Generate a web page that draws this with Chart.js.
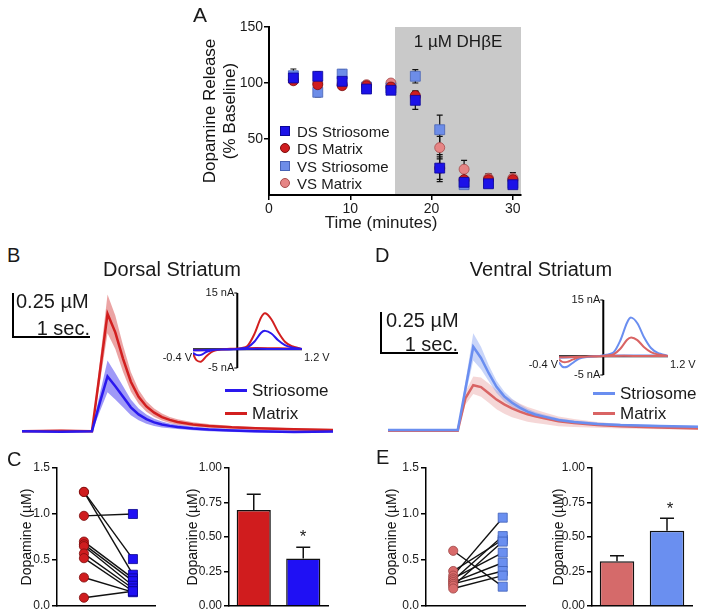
<!DOCTYPE html>
<html>
<head>
<meta charset="utf-8">
<script src="https://cdn.jsdelivr.net/npm/chart.js@4.4.1/dist/chart.umd.min.js"></script>
<style>
  body { margin: 0; background: #fff; font-family: "Liberation Sans", Arial, sans-serif; color: #1a1a1a; }
  #fig { position: relative; width: 707px; height: 616px; overflow: hidden; }
  canvas { position: absolute; }
  .t { position: absolute; line-height: 1; white-space: nowrap; }
  .rot { position: absolute; transform: rotate(-90deg); text-align: center; white-space: nowrap; line-height: 20px; color: #111; }
  .bar { position: absolute; background: #000; }
  .mk { position: absolute; box-sizing: border-box; }
</style>
</head>
<body>
<div id="fig">
  <canvas id="cA" width="340" height="205" style="left:200px;top:15px"></canvas>
  <canvas id="cB" width="311" height="150" style="left:22px;top:290px"></canvas>
  <canvas id="cBcv" width="190" height="100" style="left:150px;top:280px"></canvas>
  <canvas id="cD" width="310" height="136" style="left:388px;top:302px"></canvas>
  <canvas id="cDcv" width="190" height="100" style="left:516px;top:287px"></canvas>
  <canvas id="cC1" width="165" height="161" style="left:0px;top:455px"></canvas>
  <canvas id="cC2" width="170" height="161" style="left:170px;top:455px"></canvas>
  <canvas id="cE1" width="175" height="161" style="left:360px;top:455px"></canvas>
  <canvas id="cE2" width="170" height="161" style="left:535px;top:455px"></canvas>
</div>
<script>
// Panel A - release over time (% baseline)
const timeA = [3, 6, 9, 12, 15, 18, 21, 24, 27, 30];
const dsStrioA = [104.5, 106, 101.5, 94.6, 93.5, 84.5, 24, 11.3, 10, 9.2];
const dsMatrixA = [102, 98.5, 97.6, 97.6, 96.4, 88.7, 24, 13.7, 13.7, 13.7];
const vsStrioA = [106.5, 91.7, 108, 96.4, 95.5, 106, 58.3, 9.2, 10.7, 10.7];
const vsMatrixA = [103, 100, 99, 98.5, 100, 87.5, 42.3, 23, 15, 15];
const dsStrioErr = [4, 4, 4, 3, 3, 8, 12, 3, 3, 3];
const dsMatrixErr = [3, 3, 3, 3, 3, 4, 10, 3, 4, 4];
const vsStrioErr = [6, 4, 4, 3, 3, 6, 13, 3, 3, 3];
const vsMatrixErr = [3, 3, 3, 3, 3, 5, 10, 8, 4, 5];
const drugStart = 15.5;
const ticksAX = [0, 10, 20, 30];
const ticksAY = [50, 100, 150];

// Panels B / D - evoked traces (µM vs seconds)
const traceTime = [0, 0.5, 0.9, 1.0, 1.1, 1.2, 1.3, 1.4, 1.5, 1.6, 1.7, 1.8, 1.9, 2.0, 2.2, 2.4, 2.7, 3.0, 3.5, 4.0];
const dsMatrixMean = [0, 0.003, 0, 0.33, 0.665, 0.56, 0.41, 0.28, 0.195, 0.14, 0.105, 0.08, 0.064, 0.052, 0.038, 0.03, 0.022, 0.017, 0.011, 0.007];
const dsMatrixSem = [0.005, 0.005, 0.005, 0.06, 0.11, 0.095, 0.075, 0.055, 0.04, 0.03, 0.024, 0.02, 0.017, 0.015, 0.012, 0.01, 0.008, 0.007, 0.006, 0.005];
const dsStrioMean = [0, -0.003, 0, 0.16, 0.31, 0.255, 0.195, 0.135, 0.095, 0.068, 0.05, 0.038, 0.03, 0.024, 0.015, 0.009, 0.004, 0, -0.004, -0.002];
const dsStrioSem = [0.006, 0.006, 0.006, 0.05, 0.09, 0.075, 0.06, 0.045, 0.033, 0.026, 0.02, 0.017, 0.014, 0.012, 0.01, 0.009, 0.008, 0.008, 0.007, 0.006];
const vsStrioMean = [0, 0, 0, 0.26, 0.52, 0.45, 0.355, 0.27, 0.21, 0.17, 0.14, 0.115, 0.097, 0.085, 0.062, 0.05, 0.038, 0.031, 0.025, 0.02];
const vsStrioSem = [0.004, 0.004, 0.004, 0.045, 0.085, 0.07, 0.05, 0.038, 0.03, 0.025, 0.021, 0.018, 0.016, 0.014, 0.012, 0.01, 0.009, 0.008, 0.007, 0.006];
const vsMatrixMean = [-0.004, -0.005, -0.004, 0.2, 0.28, 0.268, 0.23, 0.19, 0.16, 0.135, 0.115, 0.098, 0.086, 0.075, 0.054, 0.043, 0.032, 0.023, 0.015, 0.01];
const vsMatrixSem = [0.004, 0.004, 0.004, 0.04, 0.055, 0.06, 0.06, 0.06, 0.058, 0.055, 0.05, 0.046, 0.042, 0.038, 0.03, 0.025, 0.018, 0.014, 0.01, 0.007];

// CV insets (nA vs V)
const cvVoltage = [-0.4, -0.2, 0, 0.2, 0.3, 0.4, 0.5, 0.6, 0.66, 0.75, 0.85, 0.95, 1.05, 1.2, 1.0, 0.7, 0.4, 0.1, -0.1, -0.2, -0.28, -0.35, -0.4];
const dsMatrixCV = [-0.3, -0.2, -0.1, 0.1, 0.3, 0.9, 4.0, 8.5, 9.6, 8.0, 4.6, 2.0, 0.8, 0.1, 0.2, 0.3, 0.3, 0.1, -0.5, -1.8, -3.3, -2.9, -1.2];
const dsStrioCV = [-0.3, -0.2, -0.1, 0.0, 0.2, 0.5, 2.0, 4.4, 4.9, 4.2, 2.4, 1.1, 0.5, 0.1, 0.1, 0.1, 0.1, 0.0, -0.2, -0.7, -1.5, -1.5, -1.0];
const vsStrioCV = [-0.4, -0.3, -0.2, 0.1, 0.4, 1.0, 4.2, 9.0, 10.3, 8.8, 5.0, 2.2, 0.9, 0.1, 0.2, 0.2, 0.2, 0.0, -0.6, -1.8, -2.8, -2.8, -1.6];
const vsMatrixCV = [-0.3, -0.2, -0.1, 0.0, 0.2, 0.5, 2.0, 4.4, 5.0, 4.3, 2.4, 1.1, 0.5, 0.1, 0.1, 0.1, 0.1, 0.0, -0.3, -0.9, -1.5, -1.5, -0.9];
const cvVoltTicks = [-0.4, 1.2];
const cvVoltLabels = ['-0.4 V', '1.2 V'];
const cvCurrTicks = [15, -5];
const cvCurrLabels = ['15 nA', '-5 nA'];
const cvAxisAt = 0.25;

// Panels C / E - paired values and means
const dsMatrixPaired = [1.24, 1.24, 0.98, 0.70, 0.67, 0.65, 0.57, 0.52, 0.31, 0.09];
const dsStrioPaired = [0.51, 0.34, 1.00, 0.30, 0.27, 0.22, 0.19, 0.16, 0.15, 0.16];
const vsMatrixPaired = [0.60, 0.38, 0.33, 0.30, 0.28, 0.26, 0.24, 0.22, 0.19];
const vsStrioPaired = [0.21, 0.72, 0.96, 0.58, 0.76, 0.47, 0.38, 0.70, 0.33];
const barGroups = ['Matrix', 'Striosome'];
const dsBarMean = [0.695, 0.345];
const dsBarSem = [0.115, 0.08];
const vsBarMean = [0.325, 0.546];
const vsBarSem = [0.04, 0.09];
const pairTicks = [0, 0.5, 1.0, 1.5];
const barTicks = [0, 0.25, 0.5, 0.75, 1.0];

Chart.defaults.font.family = '"Liberation Sans", Arial, sans-serif';
Chart.defaults.color = '#1a1a1a';
Chart.defaults.animation = false;
Chart.defaults.responsive = false;
Chart.defaults.devicePixelRatio = 1;
Chart.defaults.plugins.legend.display = false;
Chart.defaults.plugins.tooltip.enabled = false;

const fig = document.getElementById('fig');

// text placed by cap-top
function addText(txt, x, capTop, size, align) {
  const d = document.createElement('div');
  d.className = 't';
  d.textContent = txt;
  d.style.left = x + 'px';
  d.style.top = Math.round(capTop - 0.13 * size) + 'px';
  d.style.fontSize = size + 'px';
  if (align === 'center') d.style.transform = 'translateX(-50%)';
  if (align === 'right') d.style.transform = 'translateX(-100%)';
  fig.appendChild(d);
}

function addRotated(lines, cx, cy, size, w) {
  const d = document.createElement('div');
  d.className = 'rot';
  d.innerHTML = lines.join('<br>');
  const h = lines.length * 20;
  d.style.width = w + 'px';
  d.style.height = h + 'px';
  d.style.left = Math.round(cx - w / 2) + 'px';
  d.style.top = Math.round(cy - h / 2) + 'px';
  d.style.fontSize = size + 'px';
  fig.appendChild(d);
}

function addBar(x, y, w, h, color) {
  const d = document.createElement('div');
  d.className = 'bar';
  Object.assign(d.style, { left: x + 'px', top: y + 'px', width: w + 'px', height: h + 'px', background: color || '#000' });
  fig.appendChild(d);
}

// ---------- Panel A ----------
const seriesA = [
  { label: 'DS Striosome', data: dsStrioA, err: dsStrioErr, color: '#1c12e8', edge: '#0b0698', style: 'rect', r: 7 },
  { label: 'DS Matrix', data: dsMatrixA, err: dsMatrixErr, color: '#cf1d1f', edge: '#7c0c0c', style: 'circle', r: 5 },
  { label: 'VS Striosome', data: vsStrioA, err: vsStrioErr, color: '#6d8de8', edge: '#4863b5', style: 'rect', r: 7 },
  { label: 'VS Matrix', data: vsMatrixA, err: vsMatrixErr, color: '#e68585', edge: '#a64c4c', style: 'circle', r: 5 }
];

const shadeAndErrors = {
  id: 'shadeAndErrors',
  beforeDatasetsDraw(chart) {
    const { ctx, chartArea, scales: { x, y } } = chart;
    ctx.save();
    ctx.fillStyle = '#c9c9c9';
    const x0 = x.getPixelForValue(drugStart);
    const yt = y.getPixelForValue(150), yb = y.getPixelForValue(0) - 1;
    ctx.fillRect(x0, yt, chartArea.right - x0, yb - yt);
    ctx.strokeStyle = '#111';
    ctx.lineWidth = 1.2;
    chart.data.datasets.forEach(ds => {
      ds.data.forEach((p, i) => {
        const px = x.getPixelForValue(p.x);
        const t = y.getPixelForValue(p.y + ds.errors[i]);
        const b = y.getPixelForValue(p.y - ds.errors[i]);
        ctx.beginPath();
        ctx.moveTo(px, t); ctx.lineTo(px, b);
        ctx.moveTo(px - 3, t); ctx.lineTo(px + 3, t);
        ctx.moveTo(px - 3, b); ctx.lineTo(px + 3, b);
        ctx.stroke();
      });
    });
    ctx.restore();
  }
};

new Chart(document.getElementById('cA'), {
  type: 'scatter',
  data: {
    datasets: seriesA.map((s, k) => ({
      label: s.label,
      data: timeA.map((t, i) => ({ x: t, y: s.data[i] })),
      errors: s.err,
      pointStyle: s.style,
      pointRadius: s.r,
      backgroundColor: s.color,
      borderColor: s.edge,
      borderWidth: 0.8,
      order: k
    }))
  },
  options: {
    layout: { padding: { top: 12, right: 19, left: 0, bottom: 0 } },
    scales: {
      x: {
        type: 'linear', min: 0, max: 31,
        afterBuildTicks: ax => { ax.ticks = ticksAX.map(v => ({ value: v })); },
        ticks: { font: { size: 14 }, padding: 1, color: '#1a1a1a' },
        grid: { drawOnChartArea: false, tickLength: 5, color: '#000', lineWidth: 1.5 },
        border: { color: '#000', width: 2 },
        afterFit: s => { s.height = 25; }
      },
      y: {
        min: 0, max: 150,
        afterBuildTicks: ax => { ax.ticks = ticksAY.map(v => ({ value: v })); },
        ticks: { font: { size: 14 }, padding: 1, color: '#1a1a1a' },
        grid: { drawOnChartArea: false, tickLength: 5, color: '#000', lineWidth: 1.5 },
        border: { color: '#000', width: 2 },
        afterFit: s => { s.width = 69; }
      }
    }
  },
  plugins: [shadeAndErrors]
});

addText('A', 193, 7, 21);
addText('1 µM DHβE', 458, 35, 17, 'center');
addText('Time (minutes)', 381, 216, 17, 'center');
addRotated(['Dopamine Release', '(% Baseline)'], 220, 111, 17, 170);

const legendRowsY = [131, 148, 166, 183];
seriesA.forEach((s, i) => {
  const yc = legendRowsY[i];
  const m = document.createElement('div');
  m.className = 'mk';
  const sz = 10;
  Object.assign(m.style, {
    left: (285 - sz / 2) + 'px', top: (yc - sz / 2) + 'px', width: sz + 'px', height: sz + 'px',
    background: s.color, border: '0.8px solid ' + s.edge, borderRadius: s.style === 'circle' ? '50%' : '0'
  });
  fig.appendChild(m);
  addText(s.label, 297, yc - 5.4, 15);
});

// ---------- Panels B / D traces ----------
function traceSets(mean, sem, line, band, ord) {
  const pts = arr => traceTime.map((t, i) => ({ x: t, y: arr[i] }));
  return [
    { data: pts(mean.map((m, i) => m + sem[i])), borderWidth: 0, pointRadius: 0, fill: '+1', backgroundColor: band, order: ord + 2 },
    { data: pts(mean.map((m, i) => m - sem[i])), borderWidth: 0, pointRadius: 0, fill: false, order: ord + 2 },
    { data: pts(mean), borderColor: line, borderWidth: 2.5, pointRadius: 0, fill: false, order: ord }
  ];
}

function traceChart(id, sets) {
  return new Chart(document.getElementById(id), {
    type: 'line',
    data: { datasets: sets },
    options: {
      layout: { padding: 0 },
      elements: { line: { tension: 0 } },
      scales: {
        x: { type: 'linear', min: 0, max: 4, display: false },
        y: { min: -0.05, max: 0.8, display: false }
      }
    }
  });
}

traceChart('cB', [
  ...traceSets(dsMatrixMean, dsMatrixSem, '#d21f1f', 'rgba(218,90,90,0.55)', 1),
  ...traceSets(dsStrioMean, dsStrioSem, '#2a18ee', 'rgba(80,70,240,0.55)', 0)
]);
traceChart('cD', [
  ...traceSets(vsMatrixMean, vsMatrixSem, '#d96464', 'rgba(225,140,140,0.35)', 1),
  ...traceSets(vsStrioMean, vsStrioSem, '#6a8ef0', 'rgba(120,150,240,0.4)', 0)
]);

// ---------- CV insets ----------
const cvAxes = {
  id: 'cvAxes',
  beforeDatasetsDraw(chart) {
    const { ctx, scales: { x, y } } = chart;
    const ax = x.getPixelForValue(cvAxisAt), ay = y.getPixelForValue(0);
    ctx.save();
    ctx.strokeStyle = '#000';
    ctx.lineWidth = 2;
    ctx.beginPath();
    ctx.moveTo(ax, y.getPixelForValue(cvCurrTicks[0]));
    ctx.lineTo(ax, y.getPixelForValue(cvCurrTicks[1]));
    ctx.moveTo(x.getPixelForValue(cvVoltTicks[0]), ay);
    ctx.lineTo(x.getPixelForValue(cvVoltTicks[1]), ay);
    ctx.stroke();
    ctx.lineWidth = 1;
    ctx.beginPath();
    cvCurrTicks.forEach(v => { const py = y.getPixelForValue(v); ctx.moveTo(ax - 3, py); ctx.lineTo(ax, py); });
    ctx.stroke();
    ctx.fillStyle = '#1a1a1a';
    ctx.font = '11px "Liberation Sans", Arial, sans-serif';
    ctx.textBaseline = 'middle';
    ctx.textAlign = 'right';
    cvCurrTicks.forEach((v, i) => ctx.fillText(cvCurrLabels[i], ax - 3, y.getPixelForValue(v)));
    ctx.fillText(cvVoltLabels[0], x.getPixelForValue(cvVoltTicks[0]) - 1, ay + 9);
    ctx.textAlign = 'left';
    ctx.fillText(cvVoltLabels[1], x.getPixelForValue(cvVoltTicks[1]) + 2, ay + 9);
    ctx.restore();
  }
};

function cvChart(id, curves) {
  return new Chart(document.getElementById(id), {
    type: 'line',
    data: {
      datasets: curves.map(c => ({
        data: cvVoltage.map((v, i) => ({ x: v, y: c.data[i] })),
        borderColor: c.color, borderWidth: 2, pointRadius: 0, fill: false, tension: 0.3
      }))
    },
    options: {
      layout: { padding: { left: 43, top: 13, right: 38, bottom: 12 } },
      scales: {
        x: { type: 'linear', min: -0.4, max: 1.2, display: false },
        y: { min: -5, max: 15, display: false }
      }
    },
    plugins: [cvAxes]
  });
}

cvChart('cBcv', [{ data: dsStrioCV, color: '#2a18ee' }, { data: dsMatrixCV, color: '#d21f1f' }]);
cvChart('cDcv', [{ data: vsMatrixCV, color: '#d96464' }, { data: vsStrioCV, color: '#6a8ef0' }]);

addText('B', 7, 248, 20);
addText('D', 375, 248, 20);
addText('Dorsal Striatum', 172, 262, 20, 'center');
addText('Ventral Striatum', 541, 262, 20, 'center');

// scale bars
addBar(12, 293, 2, 45); addBar(12, 336, 78, 2);
addText('0.25 µM', 16, 294, 20);
addText('1 sec.', 90, 321, 20, 'right');
addBar(380, 312, 2, 42); addBar(380, 352, 78, 2);
addText('0.25 µM', 386, 313, 20);
addText('1 sec.', 458, 337, 20, 'right');

// trace legends
function traceLegend(x0, ys, colors, labels) {
  labels.forEach((lab, i) => {
    addBar(x0, ys[i] - 1, 22, 2.5, colors[i]);
    addText(lab, x0 + 27, ys[i] - 6.1, 17);
  });
}
traceLegend(225, [390, 413], ['#2a18ee', '#d21f1f'], ['Striosome', 'Matrix']);
traceLegend(593, [393, 413], ['#6a8ef0', '#d96464'], ['Striosome', 'Matrix']);

// ---------- Panels C / E ----------
function yAxisCfg(max, ticks, dec, width) {
  return {
    min: 0, max,
    afterBuildTicks: ax => { ax.ticks = ticks.map(v => ({ value: v })); },
    ticks: { font: { size: 12 }, color: '#1a1a1a', padding: 2, callback: v => Number(v).toFixed(dec) },
    grid: { drawOnChartArea: false, tickLength: 5, color: '#000', lineWidth: 1.5 },
    border: { color: '#000', width: 1.5 },
    afterFit: s => { s.width = width; }
  };
}
const xAxisPlain = {
  ticks: { display: false },
  grid: { display: false },
  border: { color: '#000', width: 1.5 },
  afterFit: s => { s.height = 10; }
};

function pairedChart(id, matrix, strio, cMat, eMat, cStr, eStr, yWidth, padRight) {
  const lines = matrix.map((m, i) => ({
    type: 'line',
    data: [{ x: 1, y: m }, { x: 3, y: strio[i] }],
    borderColor: '#111', borderWidth: 1.4, pointRadius: 0, fill: false, order: 2
  }));
  return new Chart(document.getElementById(id), {
    type: 'scatter',
    data: {
      datasets: [
        ...lines,
        { data: matrix.map(v => ({ x: 1, y: v })), pointStyle: 'circle', pointRadius: 4.6,
          backgroundColor: cMat, borderColor: eMat, borderWidth: 0.8, order: 0 },
        { data: strio.map(v => ({ x: 3, y: v })), pointStyle: 'rect', pointRadius: 6.4,
          backgroundColor: cStr, borderColor: eStr, borderWidth: 0.8, order: 0 }
      ]
    },
    options: {
      layout: { padding: { top: 13, right: padRight, left: 0, bottom: 0 } },
      scales: {
        x: Object.assign({ type: 'linear', min: -0.1, max: 3.9 }, xAxisPlain),
        y: yAxisCfg(1.5, pairTicks, 1, yWidth)
      }
    }
  });
}

const barErrors = {
  id: 'barErrors',
  afterDatasetsDraw(chart) {
    const { ctx, scales: { y } } = chart;
    const ds = chart.data.datasets[0];
    const meta = chart.getDatasetMeta(0);
    ctx.save();
    ctx.strokeStyle = '#111';
    ctx.lineWidth = 1.5;
    meta.data.forEach((el, i) => {
      const top = y.getPixelForValue(ds.data[i] + ds.errors[i]);
      ctx.beginPath();
      ctx.moveTo(el.x, el.y); ctx.lineTo(el.x, top);
      ctx.moveTo(el.x - 7, top); ctx.lineTo(el.x + 7, top);
      ctx.stroke();
    });
    ctx.restore();
  }
};

function barChart(id, means, sems, colors, yWidth, padRight) {
  return new Chart(document.getElementById(id), {
    type: 'bar',
    data: {
      labels: barGroups,
      datasets: [{
        data: means, errors: sems, backgroundColor: colors, borderColor: '#111', borderWidth: 1.5,
        categoryPercentage: 1, barPercentage: 0.69
      }]
    },
    options: {
      layout: { padding: { top: 13, right: padRight, left: 0, bottom: 0 } },
      scales: {
        x: Object.assign({ type: 'category' }, xAxisPlain),
        y: yAxisCfg(1.0, barTicks, 2, yWidth)
      }
    },
    plugins: [barErrors]
  });
}

pairedChart('cC1', dsMatrixPaired, dsStrioPaired, '#cf1d1f', '#7c0c0c', '#1f10f4', '#0a058f', 57, 10);
barChart('cC2', dsBarMean, dsBarSem, ['#d01c1e', '#1f10f4'], 59, 12);
pairedChart('cE1', vsMatrixPaired, vsStrioPaired, '#d86a6a', '#9c4343', '#6a8ff0', '#3f5fb8', 66, 10);
barChart('cE2', vsBarMean, vsBarSem, ['#d56a6a', '#6a8ff0'], 57, 13);

addText('C', 7, 452, 20);
addText('E', 376, 450, 20);
[26, 192, 391, 558].forEach(cx => addRotated(['Dopamine (µM)'], cx, 537, 14, 130));
addText('*', 303, 530, 17, 'center');
addText('*', 670, 502, 17, 'center');
</script>
</body>
</html>
